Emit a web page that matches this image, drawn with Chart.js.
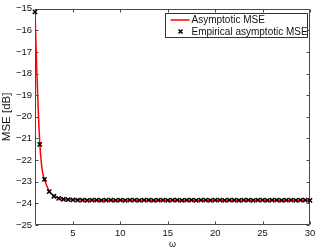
<!DOCTYPE html>
<html>
<head>
<meta charset="utf-8">
<script src="https://cdn.jsdelivr.net/npm/chart.js@4.4.1/dist/chart.umd.min.js"></script>
<style>
html,body{margin:0;padding:0;background:#fff;}
canvas{display:block;}
</style>
</head>
<body>
<canvas id="c" width="319" height="251"></canvas>
<script>
// ---- data ----
const xTicks = [5, 10, 15, 20, 25, 30];
const yTicks = [-25, -24, -23, -22, -21, -20, -19, -18, -17, -16, -15];
const yTickLabels = ["−25","−24","−23","−22","−21","−20","−19","−18","−17","−16","−15"];

const asymLabel = "Asymptotic MSE";
const asymX = [1, 1.1, 1.2, 1.3, 1.4, 1.5, 1.6, 1.7, 1.8, 1.9, 2, 2.25, 2.5, 2.75, 3, 3.5, 4, 4.5, 5, 6, 7, 8, 10, 15, 20, 25, 30];
const asymY = [-15.0, -16.6, -18.0, -19.2, -20.3, -21.2, -21.8, -22.25, -22.55, -22.75, -22.9, -23.2, -23.43, -23.57, -23.66, -23.76, -23.8, -23.82, -23.83, -23.84, -23.85, -23.85, -23.85, -23.85, -23.85, -23.85, -23.85];

const empLabel = "Empirical asymptotic MSE";
const empX = [1, 1.5, 2, 2.5, 3, 3.5, 4, 4.5, 5, 5.5, 6, 6.5, 7, 7.5, 8, 8.5, 9, 9.5, 10, 10.5, 11, 11.5, 12, 12.5, 13, 13.5, 14, 14.5, 15, 15.5, 16, 16.5, 17, 17.5, 18, 18.5, 19, 19.5, 20, 20.5, 21, 21.5, 22, 22.5, 23, 23.5, 24, 24.5, 25, 25.5, 26, 26.5, 27, 27.5, 28, 28.5, 29, 29.5, 30];
const empY = [-15.15, -21.27, -22.89, -23.46, -23.67, -23.77, -23.81, -23.83, -23.84, -23.85, -23.85, -23.86, -23.85, -23.85, -23.86, -23.85, -23.85, -23.86, -23.85, -23.86, -23.85, -23.85, -23.86, -23.85, -23.85, -23.86, -23.85, -23.85, -23.86, -23.85, -23.85, -23.86, -23.85, -23.85, -23.86, -23.85, -23.85, -23.86, -23.85, -23.85, -23.86, -23.85, -23.85, -23.86, -23.85, -23.85, -23.86, -23.85, -23.85, -23.86, -23.85, -23.85, -23.86, -23.85, -23.85, -23.86, -23.85, -23.85, -23.86];

const asymData = asymX.map((x, i) => ({x: x, y: asymY[i]}));
const empData = empX.map((x, i) => ({x: x, y: empY[i]}));

const FONT = "'Liberation Sans', Arial, Helvetica, sans-serif";
const AX = '#4a4a4a';

const framePlugin = {
  id: 'frame',
  beforeDatasetsDraw(chart) {
    const ctx = chart.ctx, a = chart.chartArea;
    const xs = chart.scales.x, ys = chart.scales.y;
    ctx.save();
    ctx.strokeStyle = AX;
    ctx.lineWidth = 1;
    ctx.beginPath();
    const L = Math.round(a.left) + 0.5, R = Math.round(a.right) - 0.5;
    const T = Math.round(a.top) + 0.5, B = Math.round(a.bottom) - 0.5;
    ctx.rect(L, T, R - L, B - T);
    const tl = 3;
    xs.ticks.forEach(t => {
      const px = Math.round(xs.getPixelForValue(t.value)) + 0.5;
      ctx.moveTo(px, B); ctx.lineTo(px, B - tl);
      ctx.moveTo(px, T); ctx.lineTo(px, T + tl);
    });
    ys.ticks.forEach(t => {
      const py = Math.round(ys.getPixelForValue(t.value)) + 0.5;
      ctx.moveTo(L, py); ctx.lineTo(L + tl, py);
      ctx.moveTo(R, py); ctx.lineTo(R - tl, py);
    });
    ctx.stroke();
    ctx.restore();
  },
  afterDraw(chart) {
    // legend box inside the plot, top right
    const ctx = chart.ctx, a = chart.chartArea;
    const ds = chart.data.datasets;
    const bw = 142, bh = 24;
    const bx = Math.round(a.right) - 3 - bw + 0.5;
    const by = Math.round(a.top) + 4 + 0.5;
    ctx.save();
    ctx.fillStyle = '#fff';
    ctx.fillRect(bx, by, bw, bh);
    ctx.strokeStyle = '#333';
    ctx.lineWidth = 1;
    ctx.strokeRect(bx, by, bw, bh);
    ctx.font = '10px ' + FONT;
    ctx.fillStyle = '#111';
    ctx.textBaseline = 'middle';
    ctx.textAlign = 'left';
    const red = ds[1], emp = ds[0];
    const y1 = by + 6.5, y2 = by + 18;
    ctx.strokeStyle = red.borderColor;
    ctx.lineWidth = red.borderWidth;
    ctx.beginPath();
    ctx.moveTo(bx + 5, y1); ctx.lineTo(bx + 24, y1);
    ctx.stroke();
    ctx.fillText(red.label, bx + 26, y1 + 0.5);
    ctx.strokeStyle = emp.pointBorderColor;
    ctx.lineWidth = 1.5;
    const mx = bx + 15, r = 2;
    ctx.beginPath();
    ctx.moveTo(mx - r, y2 - r); ctx.lineTo(mx + r, y2 + r);
    ctx.moveTo(mx - r, y2 + r); ctx.lineTo(mx + r, y2 - r);
    ctx.stroke();
    ctx.fillText(emp.label, bx + 26, y2 + 0.5);
    ctx.restore();
  }
};

new Chart(document.getElementById('c'), {
  type: 'scatter',
  data: {
    datasets: [
      {
        label: empLabel,
        data: empData,
        showLine: false,
        clip: false,
        pointStyle: 'crossRot',
        radius: 3,
        pointRadius: 3,
        pointBorderColor: '#000',
        pointBackgroundColor: '#000',
        pointBorderWidth: 1.5,
        borderColor: '#000'
      },
      {
        label: asymLabel,
        data: asymData,
        showLine: true,
        borderColor: '#ff0000',
        borderWidth: 1.5,
        pointRadius: 0,
        cubicInterpolationMode: 'monotone',
        fill: false
      }
    ]
  },
  options: {
    responsive: false,
    devicePixelRatio: 1,
    animation: false,
    layout: { padding: { left: 0, right: 9, top: 7, bottom: 0 } },
    plugins: {
      legend: { display: false },
      tooltip: { enabled: false }
    },
    scales: {
      x: {
        type: 'linear',
        min: 1,
        max: 30,
        afterBuildTicks: s => { s.ticks = xTicks.map(v => ({ value: v })); },
        afterFit: s => { s.height = 26; },
        grid: { display: false, drawTicks: false, tickLength: 0 },
        border: { display: false },
        ticks: {
          color: '#111',
          font: { family: FONT, size: 9.5 },
          padding: 3,
          maxRotation: 0,
          callback: v => String(v)
        },
        title: {
          display: true,
          text: 'ω',
          color: '#111',
          font: { family: FONT, size: 9 },
          padding: { top: 0, bottom: 1 }
        }
      },
      y: {
        type: 'linear',
        min: -25,
        max: -15,
        afterBuildTicks: s => { s.ticks = yTicks.map(v => ({ value: v })); },
        afterFit: s => { s.width = 35; },
        grid: { display: false, drawTicks: false, tickLength: 0 },
        border: { display: false },
        ticks: {
          color: '#111',
          font: { family: FONT, size: 9.5 },
          padding: 3,
          callback: v => yTickLabels[yTicks.indexOf(v)]
        },
        title: {
          display: true,
          text: 'MSE [dB]',
          color: '#111',
          font: { family: FONT, size: 11.5 },
          padding: { top: 0, bottom: 0 }
        }
      }
    }
  },
  plugins: [framePlugin]
});
</script>
</body>
</html>
